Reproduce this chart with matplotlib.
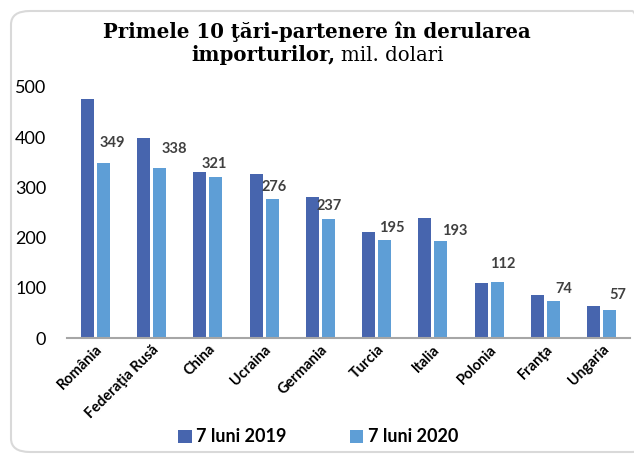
import numpy as np
import matplotlib.pyplot as plt
from matplotlib.patches import FancyBboxPatch
from matplotlib.transforms import ScaledTranslation

# importuri, mil. dolari
tari = ['România', 'Federaţia Rusă', 'China', 'Ucraina', 'Germania',
        'Turcia', 'Italia', 'Polonia', 'Franţa', 'Ungaria']
v2019 = [476, 398, 331, 326, 281, 211, 240, 109, 87, 65]
v2020 = [349, 338, 321, 276, 237, 195, 193, 112, 74, 57]
serii = ['7 luni 2019', '7 luni 2020']

# deplasarea etichetelor fata de varful barei (pixeli)
nudge = [(9, 20), (15, 19), (-1, 13), (2, 12), (1, 13),
         (7, 12), (14, 10), (5, 18), (10, 12), (8, 15)]

c19 = '#4765ae'
c20 = '#5e9ed6'
sans = ['Lato', 'DejaVu Sans']
serif = ['DejaVu Serif']

fig = plt.figure(figsize=(6.34, 4.54), dpi=100)
ax = fig.add_axes([0.1057, 0.2549, 0.888, 0.5539])

# chenar rotunjit in jurul graficului
chenar = FancyBboxPatch((11/634, 2/454), 640/634, 441/454,
                        boxstyle='round,pad=0,rounding_size=0.03',
                        transform=fig.transFigure, fc='none', ec='#d9d9d9',
                        lw=1.5, clip_on=False)
fig.patches.append(chenar)

x = np.arange(len(tari))
w = 0.23
ax.bar(x - 0.142, v2019, w, color=c19, label=serii[0])
ax.bar(x + 0.142, v2020, w, color=c20, label=serii[1])

for i, val in enumerate(v2020):
    ax.annotate(str(val), (x[i] + 0.142, val), xytext=nudge[i],
                textcoords='offset pixels', ha='center', va='center',
                fontsize=10.5, fontweight='bold', color='#404040', family=sans)

ax.set_xlim(-0.5, len(tari) - 0.5)
ax.set_ylim(0, 500)
ax.set_yticks([0, 100, 200, 300, 400, 500])
ax.tick_params(axis='y', length=0, pad=15, labelsize=13)
for t in ax.get_yticklabels():
    t.set_family(sans)

ax.set_xticks(x)
ax.set_xticklabels(tari, rotation=45, ha='right', va='center',
                   rotation_mode='anchor', fontsize=10.5, fontweight='bold',
                   color='black', family=sans)
ax.tick_params(axis='x', length=0, pad=0)
off = ScaledTranslation(5/100, -9/100, fig.dpi_scale_trans)
for t in ax.get_xticklabels():
    t.set_transform(t.get_transform() + off)

for s in ['top', 'right', 'left']:
    ax.spines[s].set_visible(False)
ax.spines['bottom'].set_color('#a6a6a6')
ax.spines['bottom'].set_linewidth(1.5)

# titlul pe doua randuri, partea a doua cu greutati diferite
fig.text(317/634, 1 - 38/454, 'Primele 10 ţări-partenere în derularea',
         ha='center', va='baseline', fontsize=14.2, fontweight='bold',
         family=serif)
fig.text(335/634, 1 - 61/454, 'importurilor,', ha='right', va='baseline',
         fontsize=14.2, fontweight='bold', family=serif)
fig.text(341/634, 1 - 61/454, 'mil. dolari', ha='left', va='baseline',
         fontsize=14.2, family=serif)

fig.legend(loc='center', bbox_to_anchor=(318/634, 1 - 437/454),
           ncol=2, frameon=False, handlelength=0.75, handleheight=0.75,
           handletextpad=0.25, columnspacing=3.5,
           prop={'family': sans, 'weight': 'bold', 'size': 13})

fig.savefig('out.png', dpi=100)
